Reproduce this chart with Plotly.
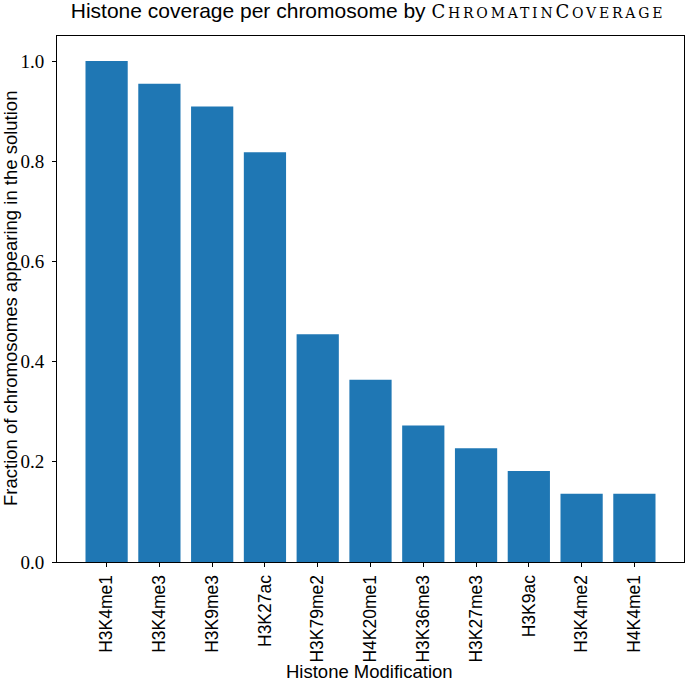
import plotly.graph_objects as go

modifications = ["H3K4me1", "H3K4me3", "H3K9me3", "H3K27ac", "H3K79me2", "H4K20me1",
                 "H3K36me3", "H3K27me3", "H3K9ac", "H3K4me2", "H4K4me1"]
fractions = [22/22, 21/22, 20/22, 18/22, 10/22, 8/22, 6/22, 5/22, 4/22, 3/22, 3/22]
y_ticks = [0.0, 0.2, 0.4, 0.6, 0.8, 1.0]

SANS = "Liberation Sans, Arial, sans-serif"
SERIF = "Liberation Serif, serif"
SC_SERIF = "DejaVu Serif, serif"

W, H = 685, 681
L, R, T, B = 57, 1, 36, 119
PW, PH = W - L - R, H - T - B

fig = go.Figure(go.Bar(
    x=list(range(len(modifications))), y=fractions,
    marker=dict(color="#1f77b4", line=dict(width=0)),
    width=0.8,
))

big = f"font-family:{SC_SERIF};font-size:18px;letter-spacing:2.8px"
small = f"font-family:{SC_SERIF};font-size:14px;letter-spacing:2.8px"
title = ("Histone coverage per chromosome by "
         f"<span style='{big}'>C</span><span style='{small}'>HROMATIN</span>"
         f"<span style='{big}'>C</span><span style='{small}'>OVERAGE</span>")

fig.update_layout(
    width=W, height=H,
    margin=dict(l=L, r=R, t=T, b=B),
    plot_bgcolor="white", paper_bgcolor="white",
    showlegend=False,
    title=dict(text=title, x=368 / W, xanchor="center", y=1 - 11 / H, yanchor="middle",
               font=dict(family=SANS, size=21, color="black")),
    xaxis=dict(
        automargin=False,
        range=[-0.94, 10.94],
        tickmode="array", tickvals=list(range(len(modifications))), ticktext=modifications,
        tickangle=-90, ticks="outside", ticklen=4, tickwidth=1, tickcolor="black",
        showline=True, linecolor="black", linewidth=1, mirror=True,
        showgrid=False, zeroline=False,
        tickfont=dict(family=SANS, size=17.5, color="black"),
        ticklabelstandoff=1,
    ),
    yaxis=dict(
        automargin=False,
        range=[0, 1.05],
        tickmode="array", tickvals=y_ticks, ticktext=[f"{v:.1f}" for v in y_ticks],
        ticks="outside", ticklen=4, tickwidth=1, tickcolor="black",
        showline=True, linecolor="black", linewidth=1, mirror=True,
        showgrid=False, zeroline=False,
        tickfont=dict(family=SERIF, size=19, color="black"),
        ticklabelstandoff=4,
    ),
    annotations=[
        dict(text="Histone Modification", xref="paper", yref="paper",
             x=(369 - L) / PW, y=-(671 - (T + PH)) / PH, xanchor="center", yanchor="middle",
             showarrow=False, font=dict(family=SANS, size=18.5, color="black")),
        dict(text="Fraction of chromosomes appearing in the solution", xref="paper", yref="paper",
             x=(10 - L) / PW, y=(T + PH - 299) / PH, xanchor="center", yanchor="middle",
             textangle=-90, showarrow=False, font=dict(family=SANS, size=18.5, color="black")),
    ],
)

fig.write_html("out.html", config={"displayModeBar": False},
               post_script="document.body.style.margin='0';")
